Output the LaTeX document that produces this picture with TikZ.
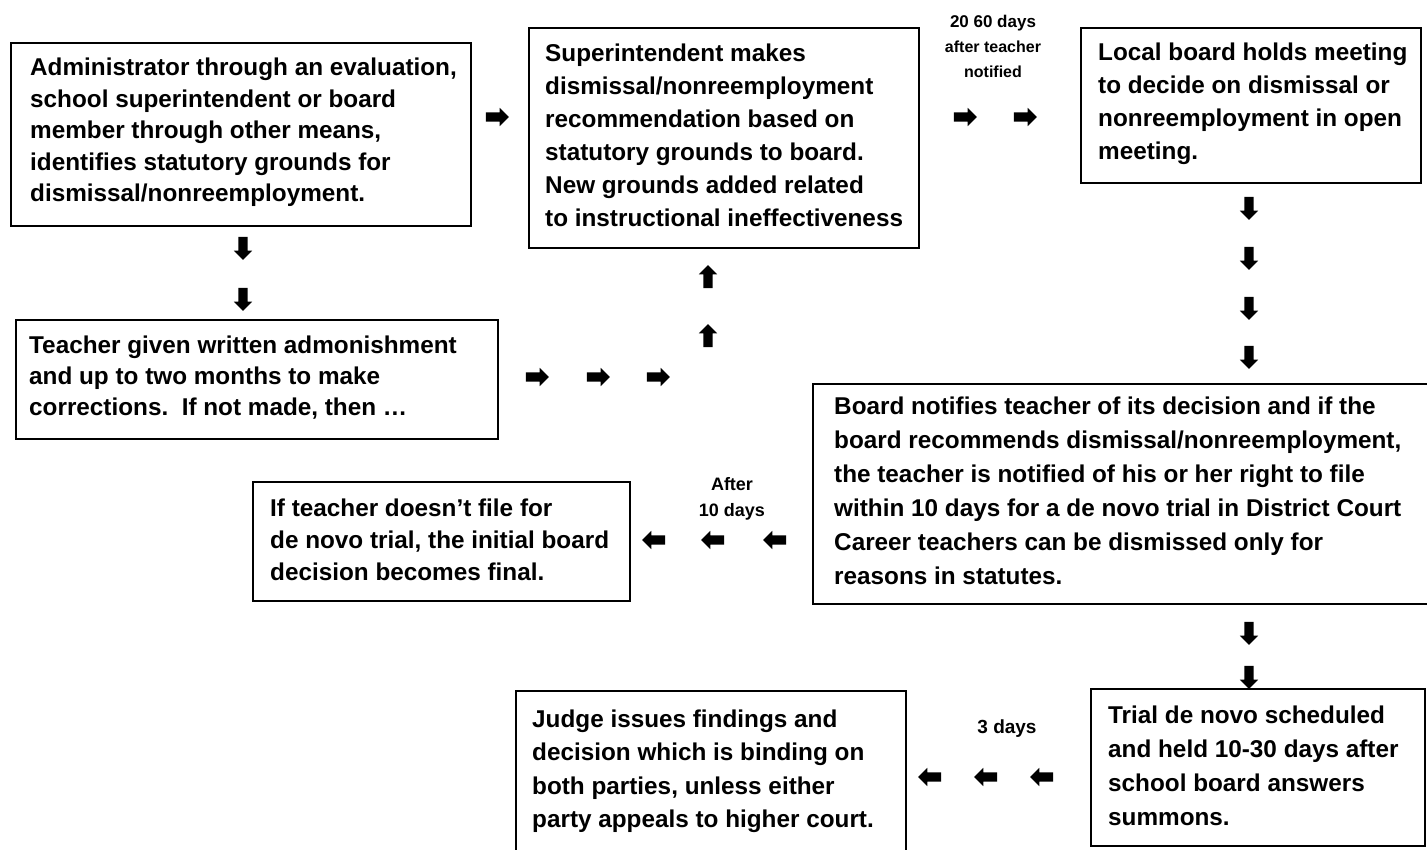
\documentclass[tikz,border=0pt]{standalone}
\usepackage{fontspec}
\setmainfont{Liberation Sans}
\usetikzlibrary{shapes.arrows}
\tikzset{
  box/.style={draw, line width=2.3pt, anchor=north west, inner sep=0pt},
  txt/.style={anchor=west, inner sep=0pt, align=left, font=\bfseries\fontsize{24.3}{33}\selectfont},
  lbl/.style={inner sep=0pt, align=center, font=\bfseries\fontsize{18}{26}\selectfont},
  blk/.style={single arrow, fill=black, draw=none, inner sep=4.5pt, minimum height=23pt,
    single arrow head extend=4.5pt, single arrow head indent=0pt},
  rar/.style={blk, shape border rotate=0},
  lar/.style={blk, shape border rotate=180},
  uar/.style={blk, shape border rotate=90},
  dar/.style={blk, shape border rotate=270},
}
\begin{document}
\begin{tikzpicture}[x=1pt,y=-1pt]
\useasboundingbox (0,0) rectangle (1427,849);
% boxes
\node[box, minimum width=460pt, minimum height=183pt] (A) at (10,42) {};
\node[txt, font=\bfseries\fontsize{24.3}{31.5}\selectfont] (At) at ([xshift=20pt,yshift=2pt]A.west)
 {Administrator through an evaluation,\\school superintendent or board\\member through other means,\\identifies statutory grounds for\\dismissal/nonreemployment.};
\node[box, minimum width=482pt, minimum height=119pt] (B) at (15,319) {};
\node[txt, font=\bfseries\fontsize{24.3}{31}\selectfont] (Bt) at ([xshift=14pt,yshift=2pt]B.west)
 {Teacher given written admonishment\\and up to two months to make\\corrections.\ \ If not made, then \dots};
\node[box, minimum width=390pt, minimum height=220pt] (C) at (528,27) {};
\node[txt] (Ct) at ([xshift=17pt,yshift=3pt]C.west)
 {Superintendent makes\\dismissal/nonreemployment\\recommendation based on\\statutory grounds to board.\\New grounds added related\\to instructional ineffectiveness};
\node[box, minimum width=340pt, minimum height=155pt] (D) at (1080,27) {};
\node[txt] (Dt) at ([xshift=18pt,yshift=2pt]D.west)
 {Local board holds meeting\\to decide on dismissal or\\nonreemployment in open\\meeting.};
\node[box, minimum width=620pt, minimum height=220pt] (E) at (812,383) {};
\node[txt, font=\bfseries\fontsize{24.3}{34}\selectfont] (Et) at ([xshift=22pt,yshift=3pt]E.west)
 {Board notifies teacher of its decision and if the\\board recommends dismissal/nonreemployment,\\the teacher is notified of his or her right to file\\within 10 days for a de novo trial in District Court\\Career teachers can be dismissed only for\\reasons in statutes.};
\node[box, minimum width=377pt, minimum height=119pt] (F) at (252,481) {};
\node[txt, font=\bfseries\fontsize{24.3}{32}\selectfont] (Ft) at ([xshift=18pt,yshift=2pt]F.west)
 {If teacher doesn't file for\\de novo trial, the initial board\\decision becomes final.};
\node[box, minimum width=334pt, minimum height=157pt] (G) at (1090,688) {};
\node[txt, font=\bfseries\fontsize{24.3}{34}\selectfont] (Gt) at ([xshift=18pt,yshift=2pt]G.west)
 {Trial de novo scheduled\\and held 10-30 days after\\school board answers\\summons.};
\node[box, minimum width=390pt, minimum height=160pt] (H) at (515,690) {};
\node[txt, font=\bfseries\fontsize{24.3}{33.5}\selectfont] (Ht) at ([xshift=17pt,yshift=0pt]H.west)
 {Judge issues findings and\\decision which is binding on\\both parties, unless either\\party appeals to higher court.};
% labels
\node[lbl, font=\bfseries\fontsize{17}{25}\selectfont] (l1) at (993,46)
 {20 60 days\\{\fontsize{16}{25}\selectfont after teacher}\\{\fontsize{16}{25}\selectfont notified}};
\node[lbl] (l2) at (732,499) {After\\10 days};
\node[lbl, font=\bfseries\fontsize{19}{26}\selectfont] (l3) at (1007,729) {3 days};
% arrows
\node[rar] (a1) at (495,117) {};
\node[dar] (a2) at (243,246) {};
\node[dar] (a3) at (243,297) {};
\node[rar] (a4) at (535,377) {};
\node[rar] (a5) at (596,377) {};
\node[rar] (a6) at (656,377) {};
\node[uar] (a7) at (708,338) {};
\node[uar] (a8) at (708,279) {};
\node[rar] (a9) at (963,117) {};
\node[rar] (a10) at (1023,117) {};
\node[dar] (a11) at (1249,206) {};
\node[dar] (a12) at (1249,256) {};
\node[dar] (a13) at (1249,306) {};
\node[dar] (a14) at (1249,355) {};
\node[lar] (a15) at (656,540) {};
\node[lar] (a16) at (715,540) {};
\node[lar] (a17) at (777,540) {};
\node[dar] (a18) at (1249,631) {};
\node[dar] (a19) at (1249,675) {};
\node[lar] (a20) at (932,777) {};
\node[lar] (a21) at (988,777) {};
\node[lar] (a22) at (1044,777) {};
\end{tikzpicture}
\end{document}
